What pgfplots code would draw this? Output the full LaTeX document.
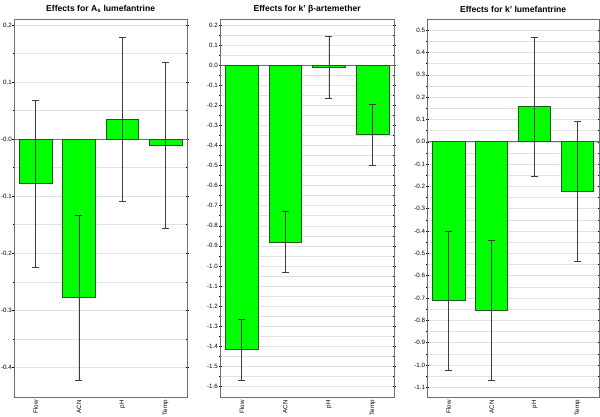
\documentclass[border=0pt]{standalone}
\usepackage{pgfplots}
\pgfplotsset{compat=1.18}
\usepackage{fontspec}
\setmainfont{Liberation Sans}
\definecolor{barfill}{RGB}{0,255,0}
\definecolor{baredge}{RGB}{30,90,30}
\definecolor{errc}{RGB}{60,60,60}
\definecolor{gridc}{RGB}{225,225,225}
\definecolor{framec}{RGB}{110,110,110}
\pgfplotstableread{
x y e
0 -0.078 0.146
1 -0.278 0.145
2 0.035 0.144
3 -0.011 0.146
}\tA
\pgfplotstableread{
x y e
0 -1.418 0.153
1 -0.882 0.152
2 -0.012 0.154
3 -0.346 0.152
}\tB
\pgfplotstableread{
x y e
0 -0.711 0.311
1 -0.756 0.314
2 0.157 0.313
3 -0.223 0.313
}\tC
\pgfplotsset{
  panel/.style={
    scale only axis, anchor=south west, height=378pt,
    xmin=-0.5, xmax=3.5,
    xtick={0,1,2,3}, xticklabels={Flow,ACN,pH,Temp},
    x tick label style={rotate=90, anchor=east, font=\fontsize{6.2}{7}\selectfont, inner sep=1pt},
    xtick style={draw=none},
    y tick label style={font=\fontsize{6.2}{7}\selectfont, inner sep=0.5pt},
    minor y tick num=1,
    ymajorgrids, yminorgrids,
    major grid style={gridc, line width=0.5pt},
    minor grid style={gridc, line width=0.5pt},
    axis line style={framec, line width=0.7pt},
    ytick style={black, line width=0.5pt},
    tick align=center, major tick length=3pt, minor tick length=2pt,
    title style={at={(0.5,1)}, anchor=center, yshift=4.5pt, font=\bfseries\fontsize{8.6}{10}\selectfont},
    extra y ticks={0}, extra y tick labels={},
    extra y tick style={grid=major, major grid style={framec, line width=0.7pt}, tick style={draw=none}},
  },
  barplot/.style={ybar, bar width=0.75, bar shift=0pt, fill=barfill, draw=baredge, line width=0.6pt,
    error bars/.cd, y dir=both, y explicit,
    error bar style={errc, line width=0.6pt},
    error mark options={rotate=90, mark size=3.5pt, errc, line width=0.6pt}},
}
\begin{document}
\begin{tikzpicture}
\path[use as bounding box] (0,0) rectangle (600pt,417pt);
\begin{axis}[panel, at={(14pt,19.5pt)}, width=173.3pt,
  ymin=-0.453, ymax=0.21,
  ytick={-0.4,-0.3,-0.2,-0.1,0,0.1,0.2},
  yticklabels={-0.4,-0.3,-0.2,-0.1,-0.0,0.1,0.2},
  title={Effects for A\textsubscript{s} lumefantrine}]
\addplot[barplot] table[x=x, y=y, y error=e] {\tA};
\end{axis}
\begin{axis}[panel, at={(220pt,19.5pt)}, width=174.3pt,
  ymin=-1.656, ymax=0.228,
  ytick={-1.6,-1.5,-1.4,-1.3,-1.2,-1.1,-1.0,-0.9,-0.8,-0.7,-0.6,-0.5,-0.4,-0.3,-0.2,-0.1,0,0.1,0.2},
  yticklabels={-1.6,-1.5,-1.4,-1.3,-1.2,-1.1,-1.0,-0.9,-0.8,-0.7,-0.6,-0.5,-0.4,-0.3,-0.2,-0.1,0.0,0.1,0.2},
  title={Effects for k’ β-artemether}]
\addplot[barplot] table[x=x, y=y, y error=e] {\tB};
\end{axis}
\begin{axis}[panel, at={(427.3pt,19.5pt)}, width=171.7pt,
  ymin=-1.146, ymax=0.548,
  ytick={-1.1,-1.0,-0.9,-0.8,-0.7,-0.6,-0.5,-0.4,-0.3,-0.2,-0.1,0,0.1,0.2,0.3,0.4,0.5},
  yticklabels={-1.1,-1.0,-0.9,-0.8,-0.7,-0.6,-0.5,-0.4,-0.3,-0.2,-0.1,0.0,0.1,0.2,0.3,0.4,0.5},
  title={Effects for k’ lumefantrine}]
\addplot[barplot] table[x=x, y=y, y error=e] {\tC};
\end{axis}
\end{tikzpicture}
\end{document}
